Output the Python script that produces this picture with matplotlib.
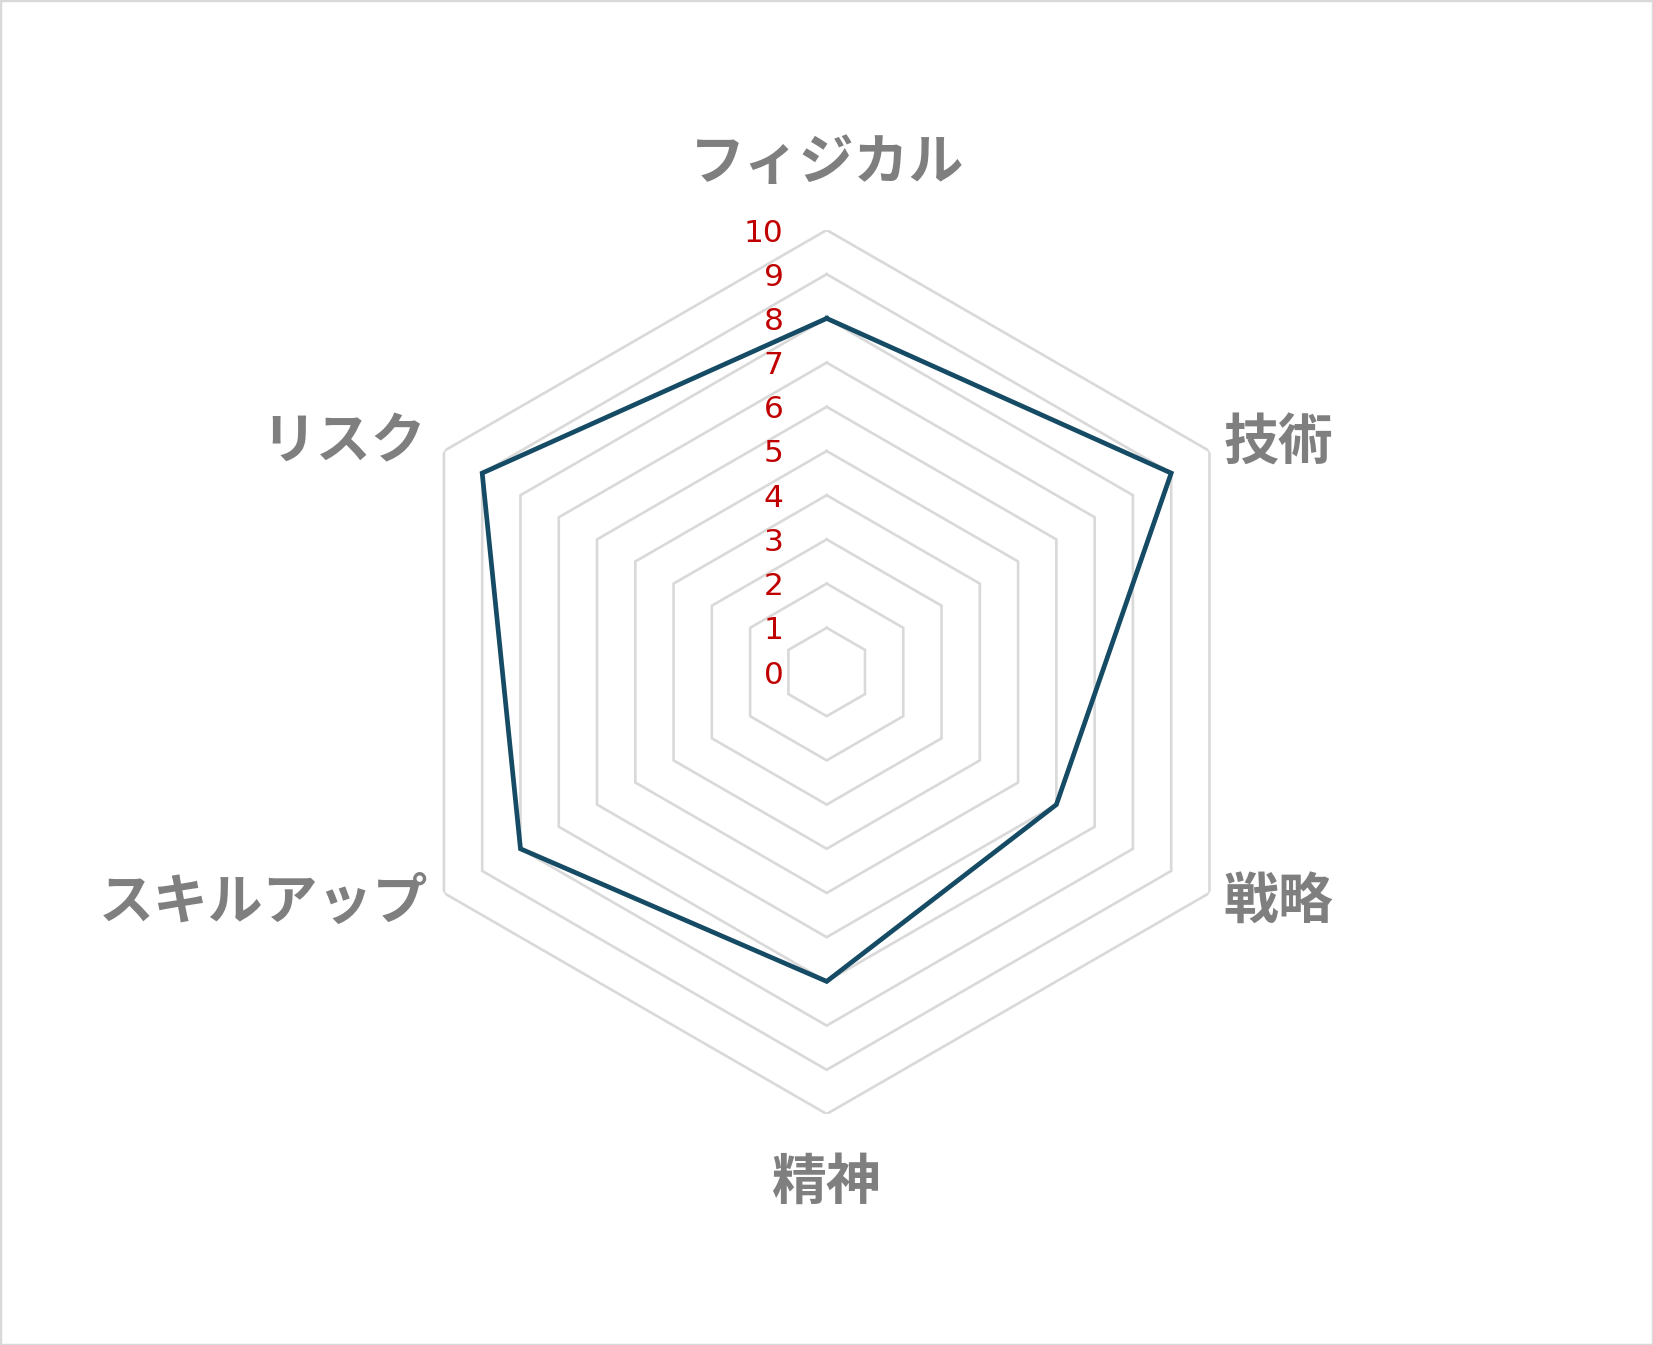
import matplotlib
matplotlib.use("Agg")
import matplotlib.pyplot as plt
import matplotlib.patches as patches
import matplotlib.transforms as mtransforms
import numpy as np

# data
categories = ["フィジカル", "技術", "戦略", "精神", "スキルアップ", "リスク"]
values = [8, 9, 6, 7, 8, 9]
ring_levels = list(range(1, 11))
tick_values = list(range(0, 11))

# label placement: (ha, dx px, dy px) relative to outer vertex
label_place = [
    ("center", 0, 68),
    ("left", 14, 8),
    ("left", 14, -9),
    ("center", 0, -68),
    ("right", -16, -9),
    ("right", -18, 9),
]

GRID_COLOR = "#D9D9D9"
LINE_COLOR = "#154B64"
TICK_COLOR = "#C00000"
LABEL_COLOR = "#7F7F7F"

W, H, DPI = 1653, 1345, 100
fig = plt.figure(figsize=(W / DPI, H / DPI), dpi=DPI)

cx, cy, R = 826.7, 672.0, 442.0
ax = fig.add_axes([(cx - R) / W, (H - cy - R) / H, 2 * R / W, 2 * R / H],
                  projection="polar")
ax.set_theta_offset(np.pi / 2)
ax.set_theta_direction(-1)
ax.set_ylim(0, 10)
ax.grid(False)
ax.set_xticks([])
ax.set_yticks([])
ax.spines["polar"].set_visible(False)
ax.patch.set_alpha(0)

n = len(categories)
theta = np.arange(n) * 2 * np.pi / n
theta_closed = np.append(theta, theta[0])

for lvl in ring_levels:
    ax.plot(theta_closed, [lvl] * (n + 1), color=GRID_COLOR, lw=1.9,
            solid_joinstyle="miter", zorder=1)

vals_closed = values + values[:1]
ax.plot(theta_closed, vals_closed, color=LINE_COLOR, lw=3.4,
        solid_joinstyle="miter", zorder=3)

for v in tick_values:
    tr = mtransforms.offset_copy(ax.transData, fig=fig, x=-43, y=-3, units="dots")
    ax.text(0, v, str(v), transform=tr, ha="right", va="center",
            fontsize=22.5, color=TICK_COLOR, family="DejaVu Sans", zorder=4)

for t, name, (ha, dx, dy) in zip(theta, categories, label_place):
    tr = mtransforms.offset_copy(ax.transData, fig=fig, x=dx, y=dy, units="dots")
    ax.text(t, 10, name, transform=tr, ha=ha, va="center",
            fontsize=39.5, fontweight="bold", color=LABEL_COLOR,
            family=["Noto Sans CJK JP", "DejaVu Sans"], zorder=4)

fig.patches.append(patches.Rectangle((0, 0), 1, 1, transform=fig.transFigure,
                                     fill=False, edgecolor=GRID_COLOR, lw=2.5))

fig.savefig("out.png", dpi=DPI)
